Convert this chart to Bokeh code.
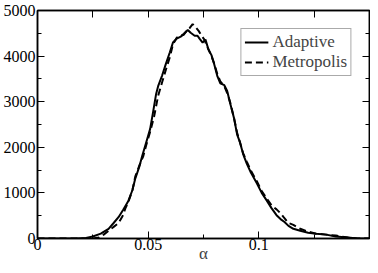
from bokeh.plotting import figure
from bokeh.models import FixedTicker, LinearAxis, CustomJSTickFormatter, Range1d, Legend, LegendItem
from bokeh.embed import file_html
from bokeh.resources import INLINE

# Adaptive sampler histogram
adaptive_alpha = [0.0, 0.0085, 0.0174, 0.0219, 0.0250, 0.0286, 0.0321, 0.0344, 0.0366, 0.0388,
                  0.0411, 0.0429, 0.0442, 0.0460, 0.0473, 0.0491, 0.0509, 0.0522, 0.0536, 0.0545,
                  0.0563, 0.0580, 0.0598, 0.0612, 0.0629, 0.0647, 0.0661, 0.0679, 0.0692, 0.0710,
                  0.0723, 0.0732, 0.0746, 0.0759, 0.0772, 0.0786, 0.0799, 0.0813, 0.0826, 0.0844,
                  0.0857, 0.0871, 0.0888, 0.0902, 0.0915, 0.0929, 0.0946, 0.0964, 0.0991, 0.1013,
                  0.1036, 0.1058, 0.1080, 0.1098, 0.1116, 0.1134, 0.1156, 0.1187, 0.1223, 0.1259,
                  0.1304, 0.1348, 0.1402, 0.1446, 0.1500]
adaptive_count = [0, 0, 0, 11, 43, 106, 213, 340, 468, 638,
                  830, 1064, 1319, 1574, 1809, 2106, 2404, 2766, 3170, 3340,
                  3574, 3830, 4085, 4298, 4383, 4426, 4489, 4574, 4511, 4447,
                  4447, 4383, 4298, 4362, 4149, 4021, 3809, 3553, 3404, 3362,
                  3234, 2957, 2638, 2277, 2106, 1851, 1638, 1447, 1213, 1000,
                  830, 660, 511, 426, 362, 277, 213, 170, 128, 106,
                  85, 43, 21, 0, 0]

# Metropolis sampler histogram
metro_alpha = [0.0, 0.0250, 0.0277, 0.0299, 0.0321, 0.0344, 0.0366, 0.0384, 0.0397, 0.0411,
               0.0429, 0.0442, 0.0460, 0.0478, 0.0491, 0.0509, 0.0527, 0.0545, 0.0563, 0.0580,
               0.0598, 0.0612, 0.0629, 0.0647, 0.0661, 0.0674, 0.0688, 0.0701, 0.0714, 0.0728,
               0.0741, 0.0754, 0.0768, 0.0786, 0.0799, 0.0813, 0.0826, 0.0844, 0.0857, 0.0871,
               0.0888, 0.0902, 0.0915, 0.0929, 0.0946, 0.0964, 0.0991, 0.1013, 0.1036, 0.1058,
               0.1080, 0.1098, 0.1112, 0.1134, 0.1156, 0.1187, 0.1223, 0.1259, 0.1304, 0.1348,
               0.1402, 0.1446, 0.1500]
metro_count = [0, 0, 21, 85, 170, 255, 340, 489, 660, 809,
               1064, 1362, 1596, 1809, 2043, 2340, 2681, 3128, 3426, 3702,
               3979, 4255, 4404, 4447, 4468, 4553, 4617, 4702, 4638, 4553,
               4447, 4362, 4191, 4000, 3830, 3596, 3447, 3340, 3191, 2979,
               2638, 2319, 2106, 1872, 1681, 1489, 1255, 1043, 872, 723,
               638, 553, 468, 340, 298, 213, 149, 106, 85, 64,
               21, 0, 0]

x_major = [0.0, 0.05, 0.1]
x_minor = [0.025, 0.075, 0.125]
y_major = [0, 1000, 2000, 3000, 4000, 5000]
y_minor = [500, 1500, 2500, 3500, 4500]

FONT = "Liberation Serif"

p = figure(width=370, height=265, output_backend="svg", toolbar_location=None,
           x_range=Range1d(0, 0.15), y_range=Range1d(0, 5000),
           min_border_left=2, min_border_right=1, min_border_top=10, min_border_bottom=0)
p.grid.visible = False
p.outline_line_color = "black"
p.outline_line_width = 1.5
p.background_fill_color = "white"
p.border_fill_color = "white"

r1 = p.line(adaptive_alpha, adaptive_count, line_color="black", line_width=2)
r2 = p.line(metro_alpha, metro_count, line_color="black", line_width=2, line_dash="7 4")

fmt = CustomJSTickFormatter(code="""
var s = tick.toFixed(2);
s = s.replace(/0+$/, '').replace(/\\.$/, '');
return s;
""")

def style_axis(ax):
    ax.axis_line_color = "black"
    ax.axis_line_width = 1.5
    ax.major_tick_in = 7
    ax.major_tick_out = 0
    ax.minor_tick_in = 4
    ax.minor_tick_out = 0
    ax.major_tick_line_color = "black"
    ax.minor_tick_line_color = "black"
    ax.major_label_text_font = FONT
    ax.major_label_text_font_size = "16px"
    ax.major_label_text_color = "black"

xa = p.xaxis[0]
xa.ticker = FixedTicker(ticks=x_major, minor_ticks=x_minor)
xa.formatter = fmt
style_axis(xa)
xa.major_label_standoff = 0
xa.axis_label = "α"
xa.axis_label_text_font = FONT
xa.axis_label_text_font_size = "17px"
xa.axis_label_text_font_style = "normal"
xa.axis_label_standoff = -9

ya = p.yaxis[0]
ya.ticker = FixedTicker(ticks=y_major, minor_ticks=y_minor)
style_axis(ya)
ya.major_label_standoff = 2
ya.major_label_orientation = "horizontal"

top = LinearAxis(ticker=FixedTicker(ticks=x_major + x_minor, minor_ticks=[]))
style_axis(top)
top.major_label_text_font_size = "0px"
top.major_label_standoff = 0
top.formatter = CustomJSTickFormatter(code="return '';")
p.add_layout(top, "above")

right = LinearAxis(ticker=FixedTicker(ticks=y_major, minor_ticks=y_minor))
style_axis(right)
right.major_label_text_font_size = "0px"
right.major_label_standoff = 0
right.formatter = CustomJSTickFormatter(code="return '';")
p.add_layout(right, "right")

legend = Legend(items=[LegendItem(label="Adaptive", renderers=[r1]),
                       LegendItem(label="Metropolis", renderers=[r2])],
                location="top_right")
legend.margin = 18
legend.padding = 3
legend.spacing = 0
legend.glyph_width = 24
legend.glyph_height = 18
legend.label_standoff = 4
legend.label_text_font = FONT
legend.label_text_font_size = "17px"
legend.label_height = 18
legend.border_line_color = "#555555"
legend.border_line_width = 1
legend.background_fill_alpha = 1
p.add_layout(legend, "center")

open("out.html", "w").write(file_html(p, INLINE))
